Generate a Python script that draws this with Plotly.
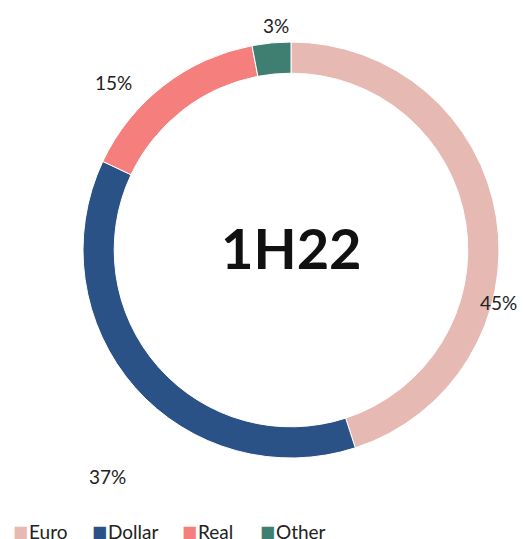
import plotly.graph_objects as go

categories = ["Euro", "Dollar", "Real", "Other"]
values = [45, 37, 15, 3]
colors = ["#E6BAB3", "#2A5286", "#F47F7D", "#3F7F72"]
center_label = "1H22"

# layout (pixel positions of the value labels and legend items)
W, H = 523, 539
cx, cy, r = 291, 250, 208
label_pos = [(498, 302), (107, 476), (113, 82), (276, 26)]
legend_sq_x = [11, 90, 180, 258]
legend_tx_x = [27, 106, 196, 274]
legend_y = 531

fig = go.Figure(go.Pie(
    labels=categories,
    values=values,
    hole=0.85,
    sort=False,
    direction="clockwise",
    rotation=0,
    marker=dict(colors=colors, line=dict(color="white", width=1)),
    textinfo="none",
    domain=dict(x=[(cx - r) / W, (cx + r) / W], y=[1 - (cy + r) / H, 1 - (cy - r) / H]),
    showlegend=False,
    hoverinfo="label+percent",
))

total = sum(values)
annotations = [dict(text=f"<b>{center_label}</b>", x=cx / W, y=1 - 247 / H, xref="paper", yref="paper",
                    xanchor="center", yanchor="middle",
                    showarrow=False, font=dict(size=56, family="Lato", color="#111111"))]
for v, (lx, ly) in zip(values, label_pos):
    annotations.append(dict(text=f"{round(100 * v / total)}%", x=lx / W, y=1 - ly / H,
                            xref="paper", yref="paper", xanchor="center", yanchor="middle",
                            showarrow=False,
                            font=dict(size=19, family="Lato", color="#222222")))
for name, col, sx, tx in zip(categories, colors, legend_sq_x, legend_tx_x):
    annotations.append(dict(
        text="■", x=sx / W, y=1 - legend_y / H, xref="paper", yref="paper",
        xanchor="left", yanchor="middle", showarrow=False,
        font=dict(size=16, family="DejaVu Sans", color=col)))
    annotations.append(dict(
        text=name, x=tx / W, y=1 - legend_y / H, xref="paper", yref="paper",
        xanchor="left", yanchor="middle", showarrow=False,
        font=dict(size=19, family="Lato", color="#222222")))

fig.update_layout(
    width=W, height=H,
    margin=dict(l=0, r=0, t=0, b=0),
    paper_bgcolor="white",
    plot_bgcolor="white",
    font=dict(family="Lato", color="#222222"),
    annotations=annotations,
)

fig.write_html("out.html", config={"displayModeBar": False},
               post_script="document.body.style.margin='0';document.body.style.overflow='hidden';")
